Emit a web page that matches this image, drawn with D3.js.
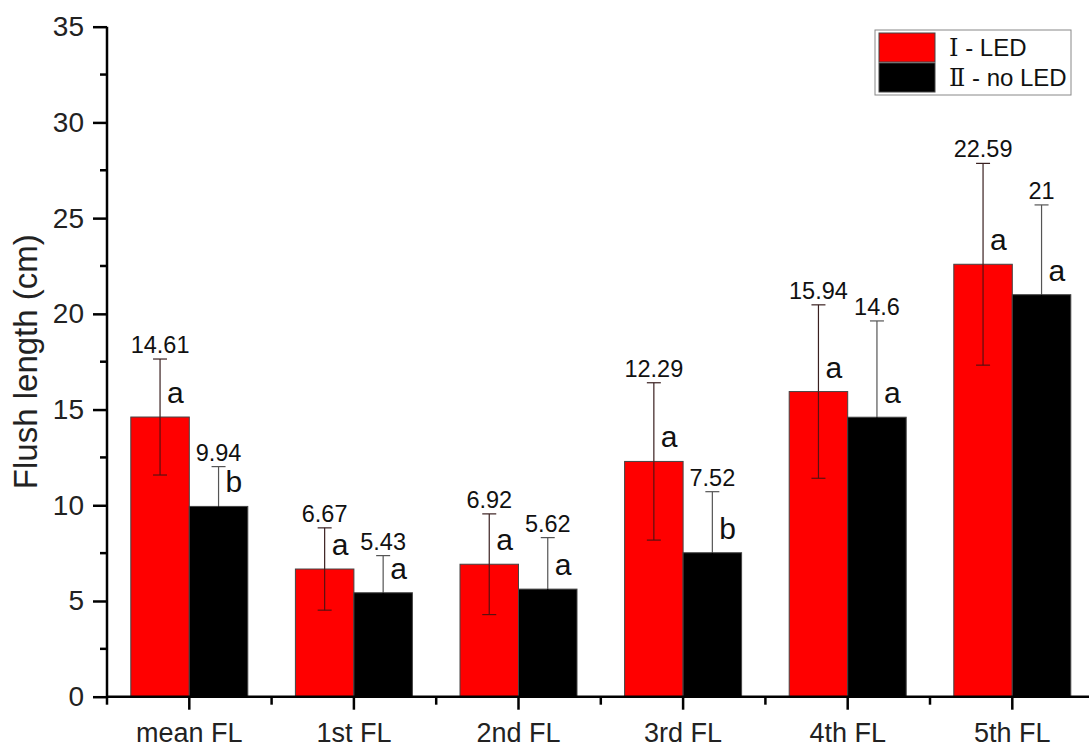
<!DOCTYPE html>
<html><head><meta charset="utf-8">
<script src="https://d3js.org/d3.v7.min.js"></script>
<style>body{margin:0;background:#fff}svg{display:block}</style>
</head><body>
<script>
const categories = ["mean FL","1st FL","2nd FL","3rd FL","4th FL","5th FL"];
const seriesNames = ["Ⅰ - LED","Ⅱ - no LED"];
const ledValues = [14.61, 6.67, 6.92, 12.29, 15.94, 22.59];
const noLedValues = [9.94, 5.43, 5.62, 7.52, 14.6, 21];
const ledErrors = [3.03, 2.15, 2.63, 4.11, 4.53, 5.27];
const noLedErrors = [2.08, 1.94, 2.69, 3.19, 5.03, 4.69];
const ledLetters = ["a","a","a","a","a","a"];
const noLedLetters = ["b","a","a","b","a","a"];
const yTicks = [0,5,10,15,20,25,30,35];
const colors = ["#ff0000","#000000"];

const W = 1089, H = 747;
const svg = d3.select("body").append("svg").attr("width", W).attr("height", H);
const left = 107, x0 = 107, bandW = 164.6;
const x = d3.scaleBand().domain(categories).range([x0, x0 + bandW*categories.length]).padding(0);
const y = d3.scaleLinear().domain([0,35]).range([696.7, 26.7]);
const sub = d3.scaleBand().domain([0,1]).range([x.bandwidth()/2 - 58.5, x.bandwidth()/2 + 58.5]).padding(0);

const series = [
  {vals: ledValues, errs: ledErrors, letters: ledLetters},
  {vals: noLedValues, errs: noLedErrors, letters: noLedLetters}
];

const font = "'Liberation Sans', Arial, sans-serif";

// bars
series.forEach((s, si) => {
  const g = svg.append("g");
  categories.forEach((c, i) => {
    const bx = x(c) + sub(si);
    g.append("rect")
      .attr("x", bx).attr("y", y(s.vals[i]))
      .attr("width", sub.bandwidth()).attr("height", y(0) - y(s.vals[i]))
      .attr("fill", colors[si]).attr("stroke", "#444").attr("stroke-width", 1);
  });
});

// error bars, labels, letters
series.forEach((s, si) => {
  categories.forEach((c, i) => {
    const cx = x(c) + sub(si) + sub.bandwidth()/2;
    const top = y(s.vals[i] + s.errs[i]);
    const bot = y(s.vals[i] - s.errs[i]);
    const col = si === 0 ? "#3a2020" : "#555";
    const inCol = si === 0 ? "#5a1010" : "#000";
    svg.append("line").attr("x1", cx).attr("x2", cx).attr("y1", top).attr("y2", y(s.vals[i]))
      .attr("stroke", col).attr("stroke-width", 1.2);
    svg.append("line").attr("x1", cx).attr("x2", cx).attr("y1", y(s.vals[i])).attr("y2", bot)
      .attr("stroke", inCol).attr("stroke-width", 1.2);
    svg.append("line").attr("x1", cx-7).attr("x2", cx+7).attr("y1", top).attr("y2", top)
      .attr("stroke", col).attr("stroke-width", 1.2);
    svg.append("line").attr("x1", cx-7).attr("x2", cx+7).attr("y1", bot).attr("y2", bot)
      .attr("stroke", inCol).attr("stroke-width", 1.2);
    svg.append("text").attr("x", cx).attr("y", top - 6)
      .attr("text-anchor", "middle").attr("font-family", font).attr("font-size", 23.5)
      .attr("fill", "#111").text(String(s.vals[i]));
    svg.append("text").attr("x", cx + 7).attr("y", y(s.vals[i]) - 14)
      .attr("font-family", font).attr("font-size", 30).attr("fill", "#111")
      .text(s.letters[i]);
  });
});

// y axis
const yAxis = d3.axisLeft(y).tickValues(yTicks).tickSize(14).tickPadding(9).tickFormat(d3.format("d"));
const ya = svg.append("g").attr("transform", `translate(${left},0)`).call(yAxis);
ya.select(".domain").attr("stroke", "#000").attr("stroke-width", 2.5).attr("d", `M0,${y(35)}V${y(0)}`);
ya.selectAll(".tick line").attr("stroke", "#000").attr("stroke-width", 2.5);
ya.selectAll(".tick text").attr("font-family", font).attr("font-size", 28).attr("fill", "#222");
const minorY = d3.range(2.5, 35, 5);
ya.selectAll(".minor").data(minorY).enter().append("line")
  .attr("x1", -7).attr("x2", 0).attr("y1", d => y(d)).attr("y2", d => y(d))
  .attr("stroke", "#000").attr("stroke-width", 2.5);

// x axis
const xAxis = d3.axisBottom(x).tickSize(13).tickPadding(13);
const xa = svg.append("g").attr("transform", `translate(0,${y(0)})`).call(xAxis);
xa.select(".domain").attr("stroke", "#000").attr("stroke-width", 2.5)
  .attr("d", `M${x0},0H${x0 + bandW*categories.length}`);
xa.selectAll(".tick line").attr("stroke", "#000").attr("stroke-width", 2.5);
xa.selectAll(".tick text").attr("font-family", font).attr("font-size", 27).attr("fill", "#222");
const minorX = d3.range(categories.length + 1).map(i => x0 + i*bandW);
xa.selectAll(".minor").data(minorX).enter().append("line")
  .attr("x1", d => d).attr("x2", d => d).attr("y1", 0).attr("y2", 8)
  .attr("stroke", "#000").attr("stroke-width", 2.5);

// y title
svg.append("text").attr("transform", `translate(37,${(y(0)+y(35))/2}) rotate(-90)`)
  .attr("text-anchor", "middle").attr("font-family", font).attr("font-size", 33)
  .attr("fill", "#222").text("Flush length (cm)");

// legend
const lg = svg.append("g");
lg.append("rect").attr("x", 875).attr("y", 30).attr("width", 196).attr("height", 65)
  .attr("fill", "#fff").attr("stroke", "#888").attr("stroke-width", 1);
seriesNames.forEach((n, i) => {
  const yy = 33 + i*30;
  lg.append("rect").attr("x", 879).attr("y", yy).attr("width", 56).attr("height", 29)
    .attr("fill", colors[i]).attr("stroke", "#444").attr("stroke-width", 1);
  const parts = n.split(" - ");
  const t = lg.append("text").attr("x", 949).attr("y", yy + 23)
    .attr("font-family", font).attr("font-size", 24).attr("fill", "#111");
  t.append("tspan").attr("font-family", "'Liberation Serif','DejaVu Serif',serif").text(parts[0]);
  t.append("tspan").text(" - " + parts[1]);
});
</script>
</body></html>
